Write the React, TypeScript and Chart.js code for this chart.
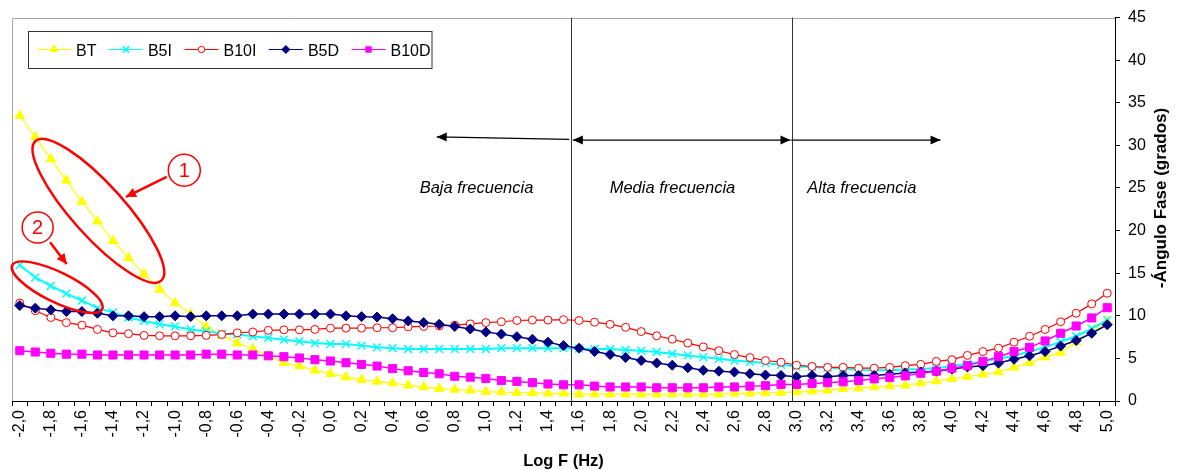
import React, { useEffect, useRef } from 'react';
import { Chart, registerables } from 'chart.js';

Chart.register(...registerables);

const FONT = "'Liberation Sans', Arial, Helvetica, sans-serif";

const logF = [
  '-2,0', '-1,9', '-1,8', '-1,7', '-1,6', '-1,5', '-1,4', '-1,3', '-1,2', '-1,1',
  '-1,0', '-0,9', '-0,8', '-0,7', '-0,6', '-0,5', '-0,4', '-0,3', '-0,2', '-0,1',
  '0,0', '0,1', '0,2', '0,3', '0,4', '0,5', '0,6', '0,7', '0,8', '0,9',
  '1,0', '1,1', '1,2', '1,3', '1,4', '1,5', '1,6', '1,7', '1,8', '1,9',
  '2,0', '2,1', '2,2', '2,3', '2,4', '2,5', '2,6', '2,7', '2,8', '2,9',
  '3,0', '3,1', '3,2', '3,3', '3,4', '3,5', '3,6', '3,7', '3,8', '3,9',
  '4,0', '4,1', '4,2', '4,3', '4,4', '4,5', '4,6', '4,7', '4,8', '4,9',
  '5,0',
];

const bt = [
  33.5, 31.0, 28.4, 25.9, 23.4, 21.1, 18.8, 16.8, 14.9, 13.1,
  11.5, 10.2, 8.7, 7.7, 6.8, 6.1, 5.3, 4.5, 4.1, 3.6,
  3.2, 2.8, 2.5, 2.3, 2.1, 1.85, 1.65, 1.45, 1.35, 1.25,
  1.1, 1.05, 1.0, 0.95, 0.9, 0.9, 0.8, 0.8, 0.8, 0.8,
  0.8, 0.8, 0.8, 0.8, 0.8, 0.8, 0.9, 0.9, 0.95, 1.0,
  1.05, 1.15, 1.25, 1.45, 1.5, 1.65, 1.75, 1.85, 2.1, 2.35,
  2.6, 2.85, 3.15, 3.4, 3.95, 4.5, 5.15, 5.7, 6.9, 8.15,
  9.35,
];

const b5i = [
  15.95, 14.5, 13.5, 12.6, 11.8, 10.9, 10.4, 9.8, 9.4, 9.0,
  8.75, 8.4, 8.2, 7.9, 7.8, 7.6, 7.4, 7.2, 7.0, 6.8,
  6.7, 6.7, 6.5, 6.3, 6.2, 6.1, 6.1, 6.1, 6.1, 6.1,
  6.1, 6.2, 6.2, 6.2, 6.2, 6.2, 6.15, 6.1, 6.1, 6.0,
  5.9, 5.75, 5.55, 5.35, 5.15, 4.95, 4.75, 4.6, 4.45, 4.25,
  4.05, 4.0, 3.9, 3.8, 3.65, 3.6, 3.6, 3.7, 3.75, 3.85,
  4.1, 4.35, 4.65, 4.95, 5.3, 5.8, 6.3, 6.95, 7.6, 8.5,
  9.5,
];

const b10i = [
  11.5, 10.6, 9.8, 9.2, 8.9, 8.4, 8.0, 7.9, 7.7, 7.65,
  7.65, 7.65, 7.7, 7.8, 8.0, 8.1, 8.3, 8.35, 8.35, 8.4,
  8.55, 8.55, 8.55, 8.6, 8.6, 8.7, 8.75, 8.8, 8.9, 9.05,
  9.2, 9.3, 9.45, 9.5, 9.5, 9.55, 9.45, 9.25, 9.0, 8.65,
  8.15, 7.65, 7.25, 6.8, 6.35, 5.9, 5.45, 5.1, 4.75, 4.55,
  4.2, 4.05, 3.95, 3.95, 3.85, 3.85, 3.95, 4.15, 4.3, 4.65,
  4.85, 5.35, 5.8, 6.2, 6.9, 7.6, 8.4, 9.3, 10.3, 11.4,
  12.65,
];

const b5d = [
  11.2, 10.9, 10.7, 10.5, 10.5, 10.3, 10.0, 10.0, 9.9, 9.9,
  10.0, 9.9, 10.0, 10.0, 10.0, 10.2, 10.2, 10.2, 10.2, 10.2,
  10.2, 10.0, 9.9, 9.85, 9.65, 9.4, 9.2, 9.0, 8.75, 8.45,
  8.1, 7.85, 7.55, 7.25, 6.9, 6.5, 6.2, 5.8, 5.45, 5.1,
  4.75, 4.45, 4.2, 3.9, 3.6, 3.5, 3.4, 3.2, 3.05, 3.0,
  2.85, 3.0, 2.85, 3.0, 3.0, 3.0, 3.15, 3.3, 3.4, 3.5,
  3.75, 4.0, 4.15, 4.45, 4.9, 5.3, 5.8, 6.45, 7.1, 7.95,
  8.95,
];

const b10d = [
  5.9, 5.75, 5.6, 5.5, 5.5, 5.4, 5.4, 5.4, 5.4, 5.4,
  5.4, 5.4, 5.5, 5.5, 5.4, 5.4, 5.3, 5.2, 5.05, 4.85,
  4.7, 4.5, 4.3, 4.1, 3.8, 3.55, 3.35, 3.2, 2.9, 2.8,
  2.65, 2.4, 2.3, 2.15, 2.0, 1.9, 1.9, 1.75, 1.65, 1.65,
  1.65, 1.55, 1.55, 1.55, 1.55, 1.65, 1.65, 1.75, 1.8, 1.95,
  1.95, 2.05, 2.15, 2.25, 2.4, 2.6, 2.75, 2.95, 3.25, 3.5,
  3.85, 4.15, 4.65, 5.2, 5.8, 6.3, 7.05, 7.95, 8.8, 9.75,
  10.95,
];

const seriesNames = ['BT', 'B5I', 'B10I', 'B5D', 'B10D'];
const yTicks = [0, 5, 10, 15, 20, 25, 30, 35, 40, 45];
const xTitle = 'Log F (Hz)';
const yTitle = '-Ángulo Fase (grados)';
const zoneLabels = ['Baja frecuencia', 'Media frecuencia', 'Alta frecuencia'];

// annotation anchors in data space: [category index, value]
const zoneLinesIdx = [35.48, 49.71];
const zoneTextAnchors: [number, number][] = [[25.74, 24.43], [37.97, 24.43], [50.69, 24.43]];

type Mk = { style: string; color: string; fill: string; r: number; lw: number };
const markers: Mk[] = [
  { style: 'triangle', color: '#FFFF00', fill: '#FFFF00', r: 5.5, lw: 1 },
  { style: 'crossRot', color: '#00FFFF', fill: '#00FFFF', r: 5.5, lw: 1.5 },
  { style: 'circle', color: '#FF0000', fill: '#FFFFFF', r: 4, lw: 1 },
  { style: 'rectRot', color: '#000080', fill: '#000080', r: 5, lw: 1 },
  { style: 'rect', color: '#FF00FF', fill: '#FF00FF', r: 5.7, lw: 1 },
];
const lineWidths = [1.2, 2, 1.2, 1.5, 1.5];

function drawMarker(ctx: CanvasRenderingContext2D, m: Mk, x: number, y: number, r: number) {
  ctx.save();
  ctx.fillStyle = m.fill;
  ctx.strokeStyle = m.color;
  ctx.lineWidth = m.lw;
  ctx.beginPath();
  if (m.style === 'triangle') {
    ctx.moveTo(x, y - r);
    ctx.lineTo(x + r * 0.866, y + r / 2);
    ctx.lineTo(x - r * 0.866, y + r / 2);
    ctx.closePath();
    ctx.fill();
    ctx.stroke();
  } else if (m.style === 'crossRot') {
    const d = r * 0.707;
    ctx.moveTo(x - d, y - d);
    ctx.lineTo(x + d, y + d);
    ctx.moveTo(x + d, y - d);
    ctx.lineTo(x - d, y + d);
    ctx.stroke();
  } else if (m.style === 'circle') {
    ctx.arc(x, y, r, 0, Math.PI * 2);
    ctx.fill();
    ctx.stroke();
  } else if (m.style === 'rectRot') {
    ctx.moveTo(x - r, y);
    ctx.lineTo(x, y - r);
    ctx.lineTo(x + r, y);
    ctx.lineTo(x, y + r);
    ctx.closePath();
    ctx.fill();
    ctx.stroke();
  } else {
    const s = r * 0.707;
    ctx.rect(x - s, y - s, 2 * s, 2 * s);
    ctx.fill();
  }
  ctx.restore();
}

function arrow(ctx: CanvasRenderingContext2D, x1: number, y1: number, x2: number, y2: number, headL: number, headW: number, both: boolean) {
  const ang = Math.atan2(y2 - y1, x2 - x1);
  ctx.beginPath();
  ctx.moveTo(x1, y1);
  ctx.lineTo(x2, y2);
  ctx.stroke();
  const head = (hx: number, hy: number, a: number) => {
    ctx.beginPath();
    ctx.moveTo(hx, hy);
    ctx.lineTo(hx - headL * Math.cos(a) + headW * Math.sin(a), hy - headL * Math.sin(a) - headW * Math.cos(a));
    ctx.lineTo(hx - headL * Math.cos(a) - headW * Math.sin(a), hy - headL * Math.sin(a) + headW * Math.cos(a));
    ctx.closePath();
    ctx.fill();
  };
  head(x2, y2, ang);
  if (both) head(x1, y1, ang + Math.PI);
}

const decor = {
  id: 'decor',
  beforeDraw(chart: any) {
    const c = chart.ctx;
    c.save();
    c.fillStyle = '#FFFFFF';
    c.fillRect(0, 0, chart.width, chart.height);
    c.restore();
  },
  beforeDatasetsDraw(chart: any) {
    const { ctx, chartArea: a } = chart;
    ctx.save();
    ctx.strokeStyle = '#A6A6A6';
    ctx.lineWidth = 1;
    ctx.beginPath();
    ctx.moveTo(Math.round(a.left) + 0.5, a.bottom);
    ctx.lineTo(Math.round(a.left) + 0.5, Math.round(a.top) + 0.5);
    ctx.lineTo(a.right, Math.round(a.top) + 0.5);
    ctx.stroke();
    ctx.restore();
  },
  afterDatasetsDraw(chart: any) {
    const { ctx, chartArea: a } = chart;
    const xs = chart.scales.x;
    const ys = chart.scales.y;
    const px = (i: number) => xs.getPixelForValue(i);
    const py = (v: number) => ys.getPixelForValue(v);
    ctx.save();

    // zone separator lines
    ctx.strokeStyle = '#333333';
    ctx.lineWidth = 1;
    zoneLinesIdx.forEach((i) => {
      const x = Math.round(px(i)) + 0.5;
      ctx.beginPath();
      ctx.moveTo(x, a.top);
      ctx.lineTo(x, a.bottom);
      ctx.stroke();
    });

    // arrows
    ctx.strokeStyle = '#000000';
    ctx.fillStyle = '#000000';
    ctx.lineWidth = 1.3;
    arrow(ctx, px(35.37), py(30.7), px(26.84), py(31.0), 10, 4.5, false);
    arrow(ctx, px(35.6), py(30.62), px(49.61), py(30.62), 10, 4.5, true);
    arrow(ctx, px(49.66), py(30.62), px(59.27), py(30.62), 10, 4.5, false);

    // zone texts
    ctx.font = `italic 16.5px ${FONT}`;
    ctx.fillStyle = '#000000';
    ctx.textAlign = 'left';
    ctx.textBaseline = 'alphabetic';
    zoneLabels.forEach((t, k) => {
      ctx.fillText(t, px(zoneTextAnchors[k][0]), py(zoneTextAnchors[k][1]));
    });

    // red annotations
    ctx.strokeStyle = '#FF0000';
    ctx.fillStyle = '#FF0000';
    ctx.lineWidth = 2.5;
    ctx.beginPath();
    ctx.ellipse(px(5.06), py(22.32), 94, 26, (48 * Math.PI) / 180, 0, Math.PI * 2);
    ctx.stroke();
    ctx.beginPath();
    ctx.ellipse(px(2.41), py(13.36), 50, 15, (26 * Math.PI) / 180, 0, Math.PI * 2);
    ctx.stroke();

    ctx.lineWidth = 1.5;
    ctx.beginPath();
    ctx.arc(px(10.59), py(27.08), 16, 0, Math.PI * 2);
    ctx.stroke();
    ctx.beginPath();
    ctx.arc(px(1.15), py(20.37), 15.5, 0, Math.PI * 2);
    ctx.stroke();
    ctx.font = `20px ${FONT}`;
    ctx.textAlign = 'center';
    ctx.textBaseline = 'middle';
    ctx.fillText('1', px(10.59), py(27.08) + 1);
    ctx.fillText('2', px(1.15), py(20.37) + 1);

    ctx.lineWidth = 2.5;
    arrow(ctx, px(9.46), py(26.3), px(6.84), py(23.96), 10, 5, false);
    arrow(ctx, px(1.95), py(18.62), px(3.02), py(16.09), 10, 5, false);

    // legend
    const lx = 28.5, ly = 31.5, lw = 403.5, lh = 37;
    ctx.fillStyle = '#FFFFFF';
    ctx.fillRect(lx, ly, lw, lh);
    ctx.strokeStyle = '#333333';
    ctx.lineWidth = 1;
    ctx.strokeRect(lx, ly, lw, lh);
    ctx.font = `16px ${FONT}`;
    ctx.textAlign = 'left';
    ctx.textBaseline = 'alphabetic';
    let cx = 37;
    const cy = 49.5;
    seriesNames.forEach((name, k) => {
      ctx.strokeStyle = markers[k].color;
      ctx.lineWidth = 1.2;
      ctx.beginPath();
      ctx.moveTo(cx, cy);
      ctx.lineTo(cx + 34, cy);
      ctx.stroke();
      drawMarker(ctx, markers[k], cx + 17, cy, markers[k].r * 0.8);
      ctx.fillStyle = '#000000';
      ctx.fillText(name, cx + 39, cy + 6);
      cx += 39 + ctx.measureText(name).width + 12.5;
    });

    // axis titles
    ctx.fillStyle = '#000000';
    ctx.font = `bold 16.5px ${FONT}`;
    ctx.textAlign = 'center';
    ctx.textBaseline = 'alphabetic';
    ctx.fillText(xTitle, (a.left + a.right) / 2, 466);
    ctx.save();
    ctx.translate(1161, 198);
    ctx.rotate(-Math.PI / 2);
    ctx.font = `bold 17px ${FONT}`;
    ctx.textBaseline = 'middle';
    ctx.fillText(yTitle, 0, 0);
    ctx.restore();

    ctx.restore();
  },
};

export default function App() {
  const ref = useRef<HTMLCanvasElement>(null);
  useEffect(() => {
    document.body.style.margin = '0';
    const canvas = ref.current!;
    const seriesData = [bt, b5i, b10i, b5d, b10d];
    const chart = new Chart(canvas, {
      type: 'line',
      data: {
        labels: logF,
        datasets: seriesNames.map((name, k) => ({
          label: name,
          data: seriesData[k],
          borderColor: markers[k].color,
          backgroundColor: markers[k].fill,
          borderWidth: lineWidths[k],
          pointStyle: markers[k].style as any,
          pointRadius: markers[k].r,
          pointHoverRadius: markers[k].r,
          pointBackgroundColor: markers[k].fill,
          pointBorderColor: markers[k].color,
          pointBorderWidth: markers[k].lw,
          tension: 0,
          fill: false,
          order: 5 - k,
        })),
      },
      options: {
        animation: false,
        responsive: false,
        maintainAspectRatio: false,
        layout: { padding: { left: 12, top: 16, right: 0, bottom: 0 } },
        plugins: { legend: { display: false }, tooltip: { enabled: false } },
        events: [],
        scales: {
          x: {
            type: 'category',
            offset: true,
            grid: { offset: true, drawOnChartArea: false, drawTicks: true, tickLength: 5, color: '#000000' },
            border: { display: true, color: '#000000', width: 1 },
            ticks: {
              autoSkip: false,
              maxRotation: 90,
              minRotation: 90,
              padding: 4,
              color: '#000000',
              font: { size: 16, family: FONT },
              callback: (_v: any, i: number) => (i % 2 === 0 ? logF[i] : ''),
            },
            afterFit: (s: any) => { s.height = 69; },
          },
          y: {
            type: 'linear',
            position: 'right',
            min: yTicks[0],
            max: yTicks[yTicks.length - 1],
            grid: { drawOnChartArea: false, drawTicks: true, tickLength: 5, color: '#000000' },
            border: { display: true, color: '#000000', width: 1 },
            ticks: {
              stepSize: 5,
              padding: 8,
              color: '#000000',
              font: { size: 16, family: FONT },
            },
            afterFit: (s: any) => { s.width = 68; },
          },
        },
      },
      plugins: [decor],
    });
    return () => chart.destroy();
  }, []);
  return (
    <div style={{ position: 'absolute', left: 0, top: 0, width: 1183, height: 470 }}>
      <canvas ref={ref} width={1183} height={470} style={{ display: 'block', width: 1183, height: 470 }} />
    </div>
  );
}
